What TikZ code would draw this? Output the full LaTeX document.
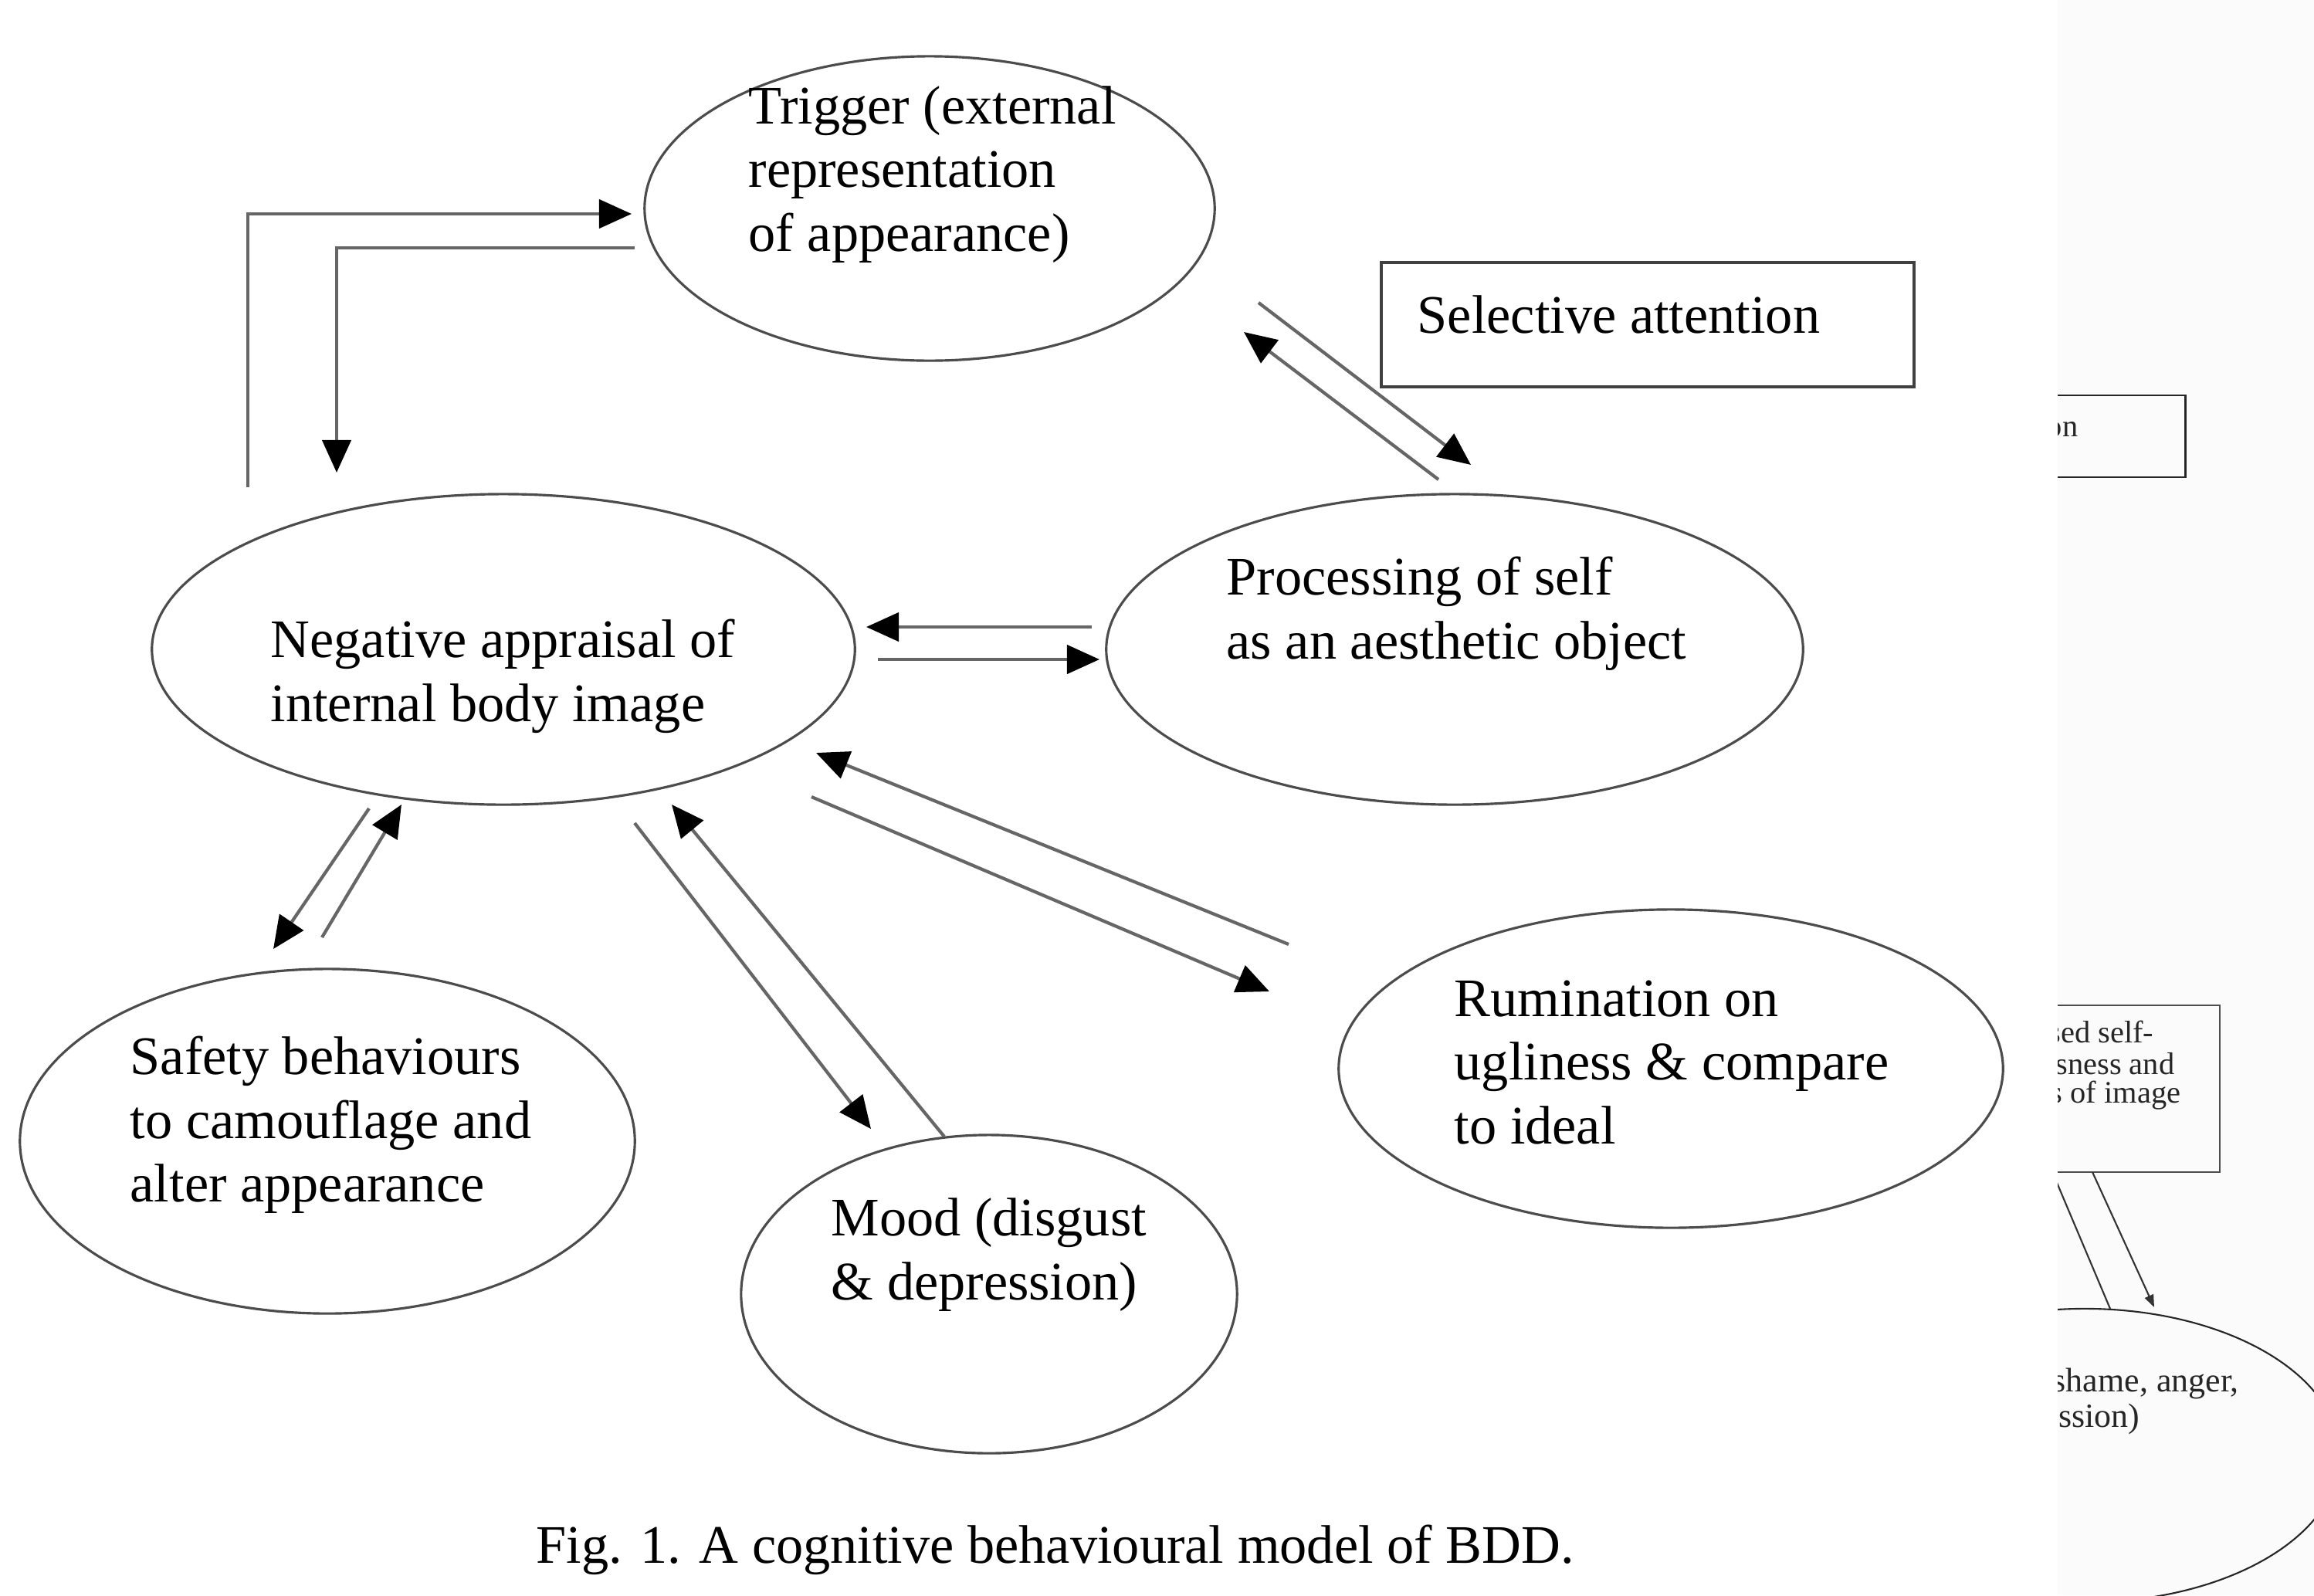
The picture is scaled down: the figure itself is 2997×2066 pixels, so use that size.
\documentclass[tikz,border=0pt]{standalone}
\usepackage{fontspec}
\setmainfont{Liberation Serif}
\usetikzlibrary{arrows.meta,shapes.geometric}
\begin{document}
\begin{tikzpicture}[x=0.01cm,y=-0.01cm,
  bubble/.style={draw=black!70, line width=0.9pt, ellipse, inner sep=0pt, outer sep=0pt},
  lbl/.style={anchor=west, align=left, inner sep=0pt, font=\fontsize{20}{23.5}\selectfont},
  conn/.style={draw=black!60, line width=1.2pt, -{Triangle[length=0.42cm,width=0.37cm,color=black]}},
  frag/.style={inner sep=0pt, font=\fontsize{11.5}{13}\selectfont, text=black!85},
  fragline/.style={draw=black!80, line width=0.6pt}]
\useasboundingbox (0,0) rectangle (2997,2066);
\fill[white] (0,0) rectangle (2997,2066);
\fill[black!1.5] (2665,0) rectangle (2997,2066);

% ellipses
\node[bubble, minimum width=7.38cm, minimum height=3.94cm] (trig) at (1204,270) {};
\node[bubble, minimum width=9.10cm, minimum height=4.02cm] (neg) at (652,841) {};
\node[bubble, minimum width=9.02cm, minimum height=4.02cm] (proc) at (1884,841) {};
\node[bubble, minimum width=7.96cm, minimum height=4.46cm] (safe) at (424,1478) {};
\node[bubble, minimum width=6.42cm, minimum height=4.12cm] (mood) at (1281,1676) {};
\node[bubble, minimum width=8.60cm, minimum height=4.12cm] (rum) at (2164,1384) {};
\node[draw=black!75, line width=1pt, minimum width=6.90cm, minimum height=1.61cm, inner sep=0pt] (sel) at (2134,420.5) {};

% labels
\node[lbl] (trigT) at (969,226) {Trigger (external\\representation\\of appearance)};
\node[lbl] (negT) at (350,876) {Negative appraisal of\\internal body image};
\node[lbl] (procT) at (1588,795) {Processing of self\\as an aesthetic object};
\node[lbl] (safeT) at (168,1457) {Safety behaviours\\to camouflage and\\alter appearance};
\node[lbl] (moodT) at (1076,1625) {Mood (disgust\\\& depression)};
\node[lbl] (rumT) at (1883,1376) {Rumination on\\ugliness \& compare\\to ideal};
\node[lbl] (selT) at (1835,407) {Selective attention};
\node[lbl] (cap) at (694,2007) {Fig. 1. A cognitive behavioural model of BDD.};

% connector end points
\coordinate (l1s) at (321,631);  \coordinate (l1e) at (818,277);
\coordinate (l2s) at (822,321);  \coordinate (l2e) at (436,612);
\coordinate (sas) at (1630,392); \coordinate (sae) at (1905,602);
\coordinate (sbs) at (1863,621); \coordinate (sbe) at (1611,430);
\coordinate (hus) at (1414,812); \coordinate (hue) at (1122,812);
\coordinate (hls) at (1137,854); \coordinate (hle) at (1424,854);
\coordinate (cs) at (478,1047);  \coordinate (ce) at (354,1229);
\coordinate (ds) at (417,1214);  \coordinate (de) at (520,1042);
\coordinate (es) at (822,1066);  \coordinate (ee) at (1128,1462);
\coordinate (fs) at (1223,1472); \coordinate (fe) at (870,1042);
\coordinate (gs) at (1669,1223); \coordinate (ge) at (1057,975);
\coordinate (hs) at (1051,1032); \coordinate (he) at (1644,1284);

\draw[conn] (l1s) |- (l1e);
\draw[conn] (l2s) -| (l2e);
\draw[conn] (sas) -- (sae);
\draw[conn] (sbs) -- (sbe);
\draw[conn] (hus) -- (hue);
\draw[conn] (hls) -- (hle);
\draw[conn] (cs) -- (ce);
\draw[conn] (ds) -- (de);
\draw[conn] (es) -- (ee);
\draw[conn] (fs) -- (fe);
\draw[conn] (gs) -- (ge);
\draw[conn] (hs) -- (he);

% fragment of a second figure, cut at its left edge
\begin{scope}
\clip (2665,0) rectangle (2997,2066);
\node[draw=black!85, line width=0.8pt, minimum width=2.70cm, minimum height=1.06cm, inner sep=0pt] (fbox1) at (2695,565) {};
\node[frag, anchor=east] (fbox1T) at (2692,552) {attention};
\node[draw=black!70, line width=0.7pt, minimum width=3.15cm, minimum height=2.16cm, inner sep=0pt] (fbox2) at (2717.5,1410) {};
\node[frag, anchor=east] (fb2a) at (2790,1336) {Increased self-};
\node[frag, anchor=east] (fb2b) at (2817,1378) {consciousness and};
\node[frag, anchor=east] (fb2c) at (2825,1419) {vividness of image};
\node[draw=black!85, line width=0.6pt, ellipse, minimum width=6.60cm, minimum height=3.80cm, inner sep=0pt] (fell) at (2700,1885) {};
\node[frag, anchor=west, font=\fontsize{12.5}{13}\selectfont] (fellA) at (2658,1792) {shame, anger,};
\node[frag, anchor=east, font=\fontsize{12.5}{13}\selectfont] (fellB) at (2772,1838) {depression)};
\coordinate (fl1s) at (2640,1475); \coordinate (fl1e) at (2733,1695);
\coordinate (fl2s) at (2710,1518); \coordinate (fl2e) at (2790,1693);
\draw[fragline] (fl1s) -- (fl1e);
\draw[fragline, -{Triangle[length=0.16cm,width=0.12cm]}] (fl2s) -- (fl2e);
\end{scope}
\end{tikzpicture}
\end{document}
